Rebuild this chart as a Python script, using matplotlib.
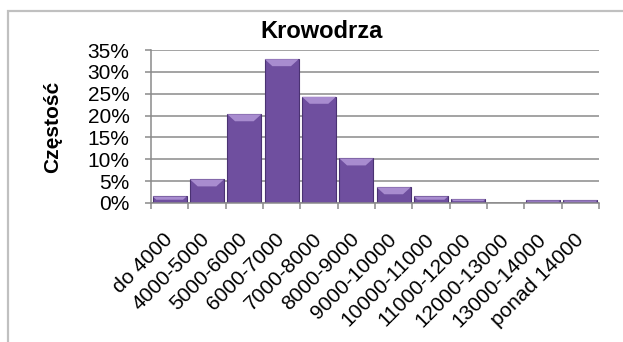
import matplotlib.pyplot as plt
from matplotlib.patches import Polygon, Rectangle
from matplotlib.ticker import PercentFormatter

plt.rcParams["font.family"] = ["Liberation Sans", "DejaVu Sans"]

categories = ["do 4000", "4000-5000", "5000-6000", "6000-7000", "7000-8000",
              "8000-9000", "9000-10000", "10000-11000", "11000-12000",
              "12000-13000", "13000-14000", "ponad 14000"]
share = [1.5, 5.4, 20.3, 32.9, 24.3, 10.2, 3.6, 1.5, 0.85, 0.0, 0.6, 0.6]

BAR = "#6f4f9f"
BAR_EDGE = "#4a3272"
BEVEL = "#a88ccf"
GRID = "#8a8a8a"

fig = plt.figure(figsize=(6.23, 3.42), dpi=100)
ax = fig.add_axes([151 / 623, 1 - 203 / 342, 448 / 623, 153 / 342])

# outer chart frame (only top and left edges fall inside the image)
fig.patches.append(Rectangle((8 / 623, -0.2), 1.2, 1 - 11 / 342 + 0.2,
                             transform=fig.transFigure, fill=False,
                             edgecolor="#c0c0c0", linewidth=1.6))

x = list(range(len(categories)))
ax.set_xlim(-0.5, len(categories) - 0.5)
ax.set_ylim(0, 35)

ax.yaxis.grid(True, color=GRID, linewidth=1.1)
ax.set_axisbelow(True)

width = 0.91
ax.bar(x, share, width=width, color=BAR, edgecolor=BAR_EDGE, linewidth=0.8,
       zorder=2)

# light bevel across the top of every bar
px_x = len(categories) / 448
px_y = 35 / 153
for xi, v in zip(x, share):
    if v <= 0:
        continue
    depth = min(7 * px_y, v / 2)
    inset = min(depth / px_y * px_x * 1.1, width / 2)
    left, right = xi - width / 2, xi + width / 2
    ax.add_patch(Polygon([(left, v), (right, v), (right - inset, v - depth),
                          (left + inset, v - depth)],
                         closed=True, facecolor=BEVEL, edgecolor="none",
                         zorder=3))

ax.yaxis.set_major_formatter(PercentFormatter(decimals=0))
ax.set_yticks(range(0, 36, 5))
ax.set_xticks([i - 0.5 for i in range(len(categories) + 1)])
ax.set_xticklabels([])
ax.set_xticks(x, minor=True)
ax.set_xticklabels(categories, minor=True, rotation=45, ha="right",
                   va="center", rotation_mode="anchor", fontsize=15)
ax.tick_params(axis="x", which="minor", length=0, pad=24)
ax.tick_params(axis="x", which="major", length=4, color=GRID, width=1.1)
ax.tick_params(axis="y", length=4.5, color=GRID, width=1.1, labelsize=15,
               pad=11)

for side in ("top", "right"):
    ax.spines[side].set_visible(False)
for side in ("left", "bottom"):
    ax.spines[side].set_color(GRID)
    ax.spines[side].set_linewidth(1.1)

fig.text(322 / 623, 1 - 37.5 / 342, "Krowodrza", fontsize=17,
         fontweight="bold", ha="center", va="baseline")
ax.set_ylabel("Częstość", fontsize=15, fontweight="bold")
ax.yaxis.set_label_coords((62 - 151) / 448, 0.5)

fig.savefig("out.png", dpi=100)
